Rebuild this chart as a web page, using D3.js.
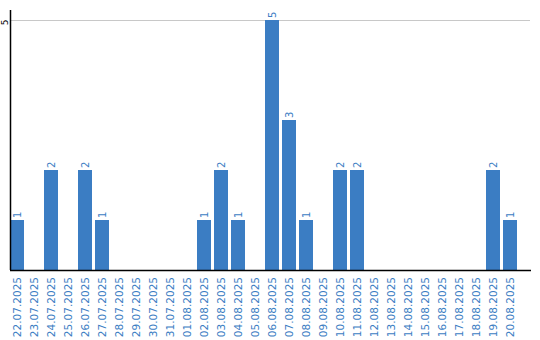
<!DOCTYPE html>
<html><head><meta charset="utf-8">
<script src="https://cdn.jsdelivr.net/npm/d3@7"></script>
<style>body{margin:0;background:#fff}svg{display:block}</style>
</head><body>
<script>
const categories = ["22.07.2025","23.07.2025","24.07.2025","25.07.2025","26.07.2025","27.07.2025","28.07.2025","29.07.2025","30.07.2025","31.07.2025","01.08.2025","02.08.2025","03.08.2025","04.08.2025","05.08.2025","06.08.2025","07.08.2025","08.08.2025","09.08.2025","10.08.2025","11.08.2025","12.08.2025","13.08.2025","14.08.2025","15.08.2025","16.08.2025","17.08.2025","18.08.2025","19.08.2025","20.08.2025"];
const values = [1,0,2,0,2,1,0,0,0,0,0,1,2,1,0,5,3,1,0,2,2,0,0,0,0,0,0,0,2,1];
const yTicks = [5];

const W = 540, H = 340;
const color = "#3b7dc3";
const svg = d3.select("body").append("svg").attr("width", W).attr("height", H);

const x = d3.scaleBand().domain(categories).range([10, 517]).paddingInner(3/17).paddingOuter(0);
const y = d3.scaleLinear().domain([0, 5]).range([270, 20]);

// gridlines
svg.append("g").selectAll("line").data(yTicks).join("line")
  .attr("x1", 10).attr("x2", 530)
  .attr("y1", d => y(d) + 0.5).attr("y2", d => y(d) + 0.5)
  .attr("stroke", "#c8c8c8").attr("stroke-width", 1);

// bars
svg.append("g").selectAll("rect").data(values.map((v, i) => ({c: categories[i], v}))).join("rect")
  .attr("x", d => x(d.c)).attr("width", x.bandwidth())
  .attr("y", d => y(d.v)).attr("height", d => y(0) - y(d.v))
  .attr("fill", color);

// value labels
svg.append("g").selectAll("text").data(values.map((v, i) => ({c: categories[i], v})).filter(d => d.v > 0)).join("text")
  .attr("transform", d => `translate(${x(d.c) + x.bandwidth()/2 + 3.5},${y(d.v) - 2}) rotate(-90)`)
  .attr("text-anchor", "start")
  .attr("font-family", "DejaVu Sans, Verdana, sans-serif").attr("font-size", 10)
  .attr("fill", color)
  .text(d => d.v);

// y axis line
svg.append("line").attr("x1", 10.5).attr("x2", 10.5).attr("y1", 10).attr("y2", 270)
  .attr("stroke", "#000").attr("stroke-width", 1.5);
// y tick labels
svg.append("g").selectAll("text").data(yTicks).join("text")
  .attr("transform", d => `translate(8,${y(d) + 2.5}) rotate(-90)`)
  .attr("text-anchor", "middle")
  .attr("font-family", "DejaVu Sans, Verdana, sans-serif").attr("font-size", 9)
  .attr("fill", "#000")
  .text(d => d);

// baseline
svg.append("line").attr("x1", 10).attr("x2", 531).attr("y1", 270.5).attr("y2", 270.5)
  .attr("stroke", "#000").attr("stroke-width", 1.5);

// x labels
svg.append("g").selectAll("text").data(categories).join("text")
  .attr("transform", d => `translate(${x(d) + x.bandwidth()/2 + 3.5},277) rotate(-90)`)
  .attr("text-anchor", "end")
  .attr("font-family", "DejaVu Sans, Verdana, sans-serif").attr("font-size", 10.5)
  .attr("fill", color)
  .text(d => d);
</script>
</body></html>
